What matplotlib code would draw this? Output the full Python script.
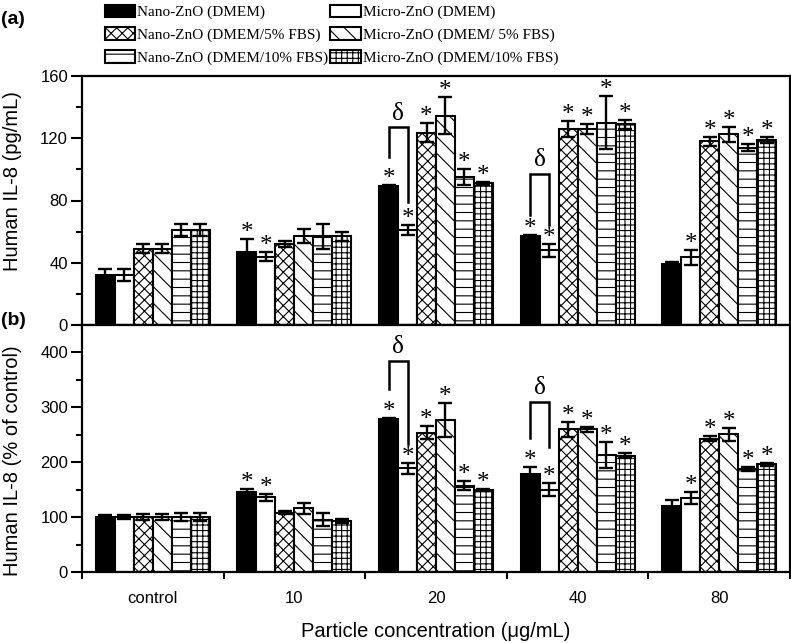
import numpy as np
import matplotlib.pyplot as plt
from matplotlib.ticker import MultipleLocator

# ── Data ──────────────────────────────────────────────────────────────────────

groups = ["control", "10", "20", "40", "80"]

series = [
    "Nano-ZnO (DMEM)",
    "Micro-ZnO (DMEM)",
    "Nano-ZnO (DMEM/5% FBS)",
    "Micro-ZnO (DMEM/ 5% FBS)",
    "Nano-ZnO (DMEM/10% FBS)",
    "Micro-ZnO (DMEM/10% FBS)",
]

# panel (a): IL-8 in pg/mL, one list per series over the groups
pg_nano_dmem   = [32, 47, 89, 57, 39]
pg_micro_dmem  = [32, 44, 61, 48, 43.5]
pg_nano_5fbs   = [49, 52, 123.5, 126, 118]
pg_micro_5fbs  = [49, 57, 134.5, 126, 122.5]
pg_nano_10fbs  = [61, 57, 95, 130, 114]
pg_micro_10fbs = [61, 57, 91, 129, 119]

pg_err_nano_dmem   = [4, 8, 1, 1, 1.5]
pg_err_micro_dmem  = [4, 3, 3, 4, 5]
pg_err_nano_5fbs   = [3, 2, 6, 5, 3]
pg_err_micro_5fbs  = [3, 4.5, 12, 3, 5]
pg_err_nano_10fbs  = [4, 8, 5, 17, 2]
pg_err_micro_10fbs = [4, 3, 1, 3, 2]

# panel (b): IL-8 as % of control
pc_nano_dmem   = [100, 145, 279, 178, 121]
pc_micro_dmem  = [100, 136, 189, 150, 134]
pc_nano_5fbs   = [100, 108, 254, 260, 243]
pc_micro_5fbs  = [100, 116, 277, 260, 251]
pc_nano_10fbs  = [100, 95, 157, 213, 188]
pc_micro_10fbs = [100, 93, 150, 212, 196]

pc_err_nano_dmem   = [3, 7, 1.5, 13, 10]
pc_err_micro_dmem  = [3, 6, 10, 12, 11]
pc_err_nano_5fbs   = [6, 3, 12, 14, 4]
pc_err_micro_5fbs  = [6, 10, 31, 5, 12]
pc_err_nano_10fbs  = [7, 12, 8, 23, 4]
pc_err_micro_10fbs = [7, 4, 2, 5, 3]

# significance stars: rows = groups, cols = series (same in both panels)
stars = [
    [0, 0, 0, 0, 0, 0],
    [1, 1, 0, 0, 0, 0],
    [1, 1, 1, 1, 1, 1],
    [1, 1, 1, 1, 1, 1],
    [0, 1, 1, 1, 1, 1],
]

# delta brackets between nano and micro (DMEM): group, top, left leg end, right leg end
brackets_a = [(2, 127, 108, 79), (3, 97, 71, 64)]
brackets_b = [(2, 385, 334, 234), (3, 310, 244, 228)]

# ── Styling ───────────────────────────────────────────────────────────────────

faces   = ["black", "white", "white", "white", "white", "white"]
hatches = [None, None, "xxx", "\\\\", "--", "+++"]

plt.rcParams["hatch.linewidth"] = 0.8
SANS = "Liberation Sans"
SERIF = "Liberation Serif"

W, H = 791, 643
fig = plt.figure(figsize=(W / 100, H / 100), dpi=100)
ax1 = fig.add_axes([82 / W, 1 - 325 / H, 708 / W, 249 / H])
ax2 = fig.add_axes([82 / W, 1 - 572 / H, 708 / W, 247 / H])

bw = 0.134
x = np.arange(len(groups))


def draw_panel(ax, vals, errs, brackets):
    bars = []
    for i, (v, e) in enumerate(zip(vals, errs)):
        xi = x + (i - 2.5) * bw
        b = ax.bar(xi, v, bw, color=faces[i], edgecolor="black", linewidth=1.5,
                   hatch=hatches[i], label=series[i], zorder=2)
        ax.errorbar(xi, v, yerr=e, fmt="none", ecolor="black", elinewidth=1.7,
                    capsize=5, capthick=1.7, zorder=3)
        for g in range(len(groups)):
            if stars[g][i]:
                ax.annotate("*", (xi[g], v[g] + e[g]), xytext=(0, 0),
                            textcoords="offset points", ha="center", va="baseline",
                            fontsize=18, family=SERIF)
        bars.append(b)

    for g, top, yl, yr in brackets:
        xl = g + (0 - 2.5) * bw
        xr = g + (1 - 2.5) * bw
        ax.plot([xl, xl, xr, xr], [yl, top, top, yr], color="black", lw=1.8,
                zorder=4, solid_joinstyle="miter")
        ax.annotate("δ", ((xl + xr) / 2, top), xytext=(0, 2), textcoords="offset points",
                    ha="center", va="bottom", fontsize=18, family=SERIF)

    ax.set_xlim(-0.5, len(groups) - 0.5)
    ax.set_xticks(np.arange(len(groups) + 1) - 0.5)
    ax.set_xticklabels([])
    ax.tick_params(axis="x", which="major", direction="out", length=5, width=1.5)
    ax.tick_params(axis="y", which="major", direction="out", length=8, width=1.5,
                   labelsize=12, pad=2)
    ax.tick_params(axis="y", which="minor", direction="out", length=4, width=1.5)
    for sp in ax.spines.values():
        sp.set_linewidth(1.6)
    return bars


vals_a = [pg_nano_dmem, pg_micro_dmem, pg_nano_5fbs, pg_micro_5fbs, pg_nano_10fbs, pg_micro_10fbs]
errs_a = [pg_err_nano_dmem, pg_err_micro_dmem, pg_err_nano_5fbs, pg_err_micro_5fbs,
          pg_err_nano_10fbs, pg_err_micro_10fbs]
vals_b = [pc_nano_dmem, pc_micro_dmem, pc_nano_5fbs, pc_micro_5fbs, pc_nano_10fbs, pc_micro_10fbs]
errs_b = [pc_err_nano_dmem, pc_err_micro_dmem, pc_err_nano_5fbs, pc_err_micro_5fbs,
          pc_err_nano_10fbs, pc_err_micro_10fbs]

bars = draw_panel(ax1, vals_a, errs_a, brackets_a)
draw_panel(ax2, vals_b, errs_b, brackets_b)

ax1.set_ylim(0, 160)
ax1.yaxis.set_major_locator(MultipleLocator(40))
ax1.yaxis.set_minor_locator(MultipleLocator(20))
ax2.set_ylim(0, 450)
ax2.set_yticks([0, 100, 200, 300, 400])
ax2.yaxis.set_minor_locator(MultipleLocator(50))
for ax in (ax1, ax2):
    for lab in ax.get_yticklabels():
        lab.set_family(SANS)

# category labels sit between the boundary ticks
ax2.set_xticks(x, minor=True)
ax2.set_xticklabels(groups, minor=True, family=SANS, fontsize=12)
ax2.tick_params(axis="x", which="minor", length=0, pad=14)

ax1.set_ylabel("Human IL-8 (pg/mL)", family=SANS, fontsize=14.5)
ax1.yaxis.set_label_coords(-0.085, 0.58)
ax2.set_ylabel("Human IL-8 (% of control)", family=SANS, fontsize=14.5)
ax2.yaxis.set_label_coords(-0.085, 0.45)
ax2.set_xlabel("Particle concentration (μg/mL)", family=SANS, fontsize=14.5, labelpad=11)

fig.text(1 / W, 1 - 19 / H, "(a)", family=SANS, fontsize=14, fontweight="bold",
         ha="left", va="center")
fig.text(1 / W, 1 - 320 / H, "(b)", family=SANS, fontsize=14, fontweight="bold",
         ha="left", va="center")

order = [0, 2, 4, 1, 3, 5]
fig.legend([bars[i] for i in order], [series[i] for i in order], ncol=2,
           loc="upper left", bbox_to_anchor=(100 / W, 1.0), frameon=False,
           prop={"family": SERIF, "size": 11}, handlelength=2.0, handleheight=0.9,
           handletextpad=0.15, columnspacing=0.1, labelspacing=0.53,
           borderaxespad=0.0, borderpad=0.3)

plt.savefig("out.png", dpi=100)
plt.close()
